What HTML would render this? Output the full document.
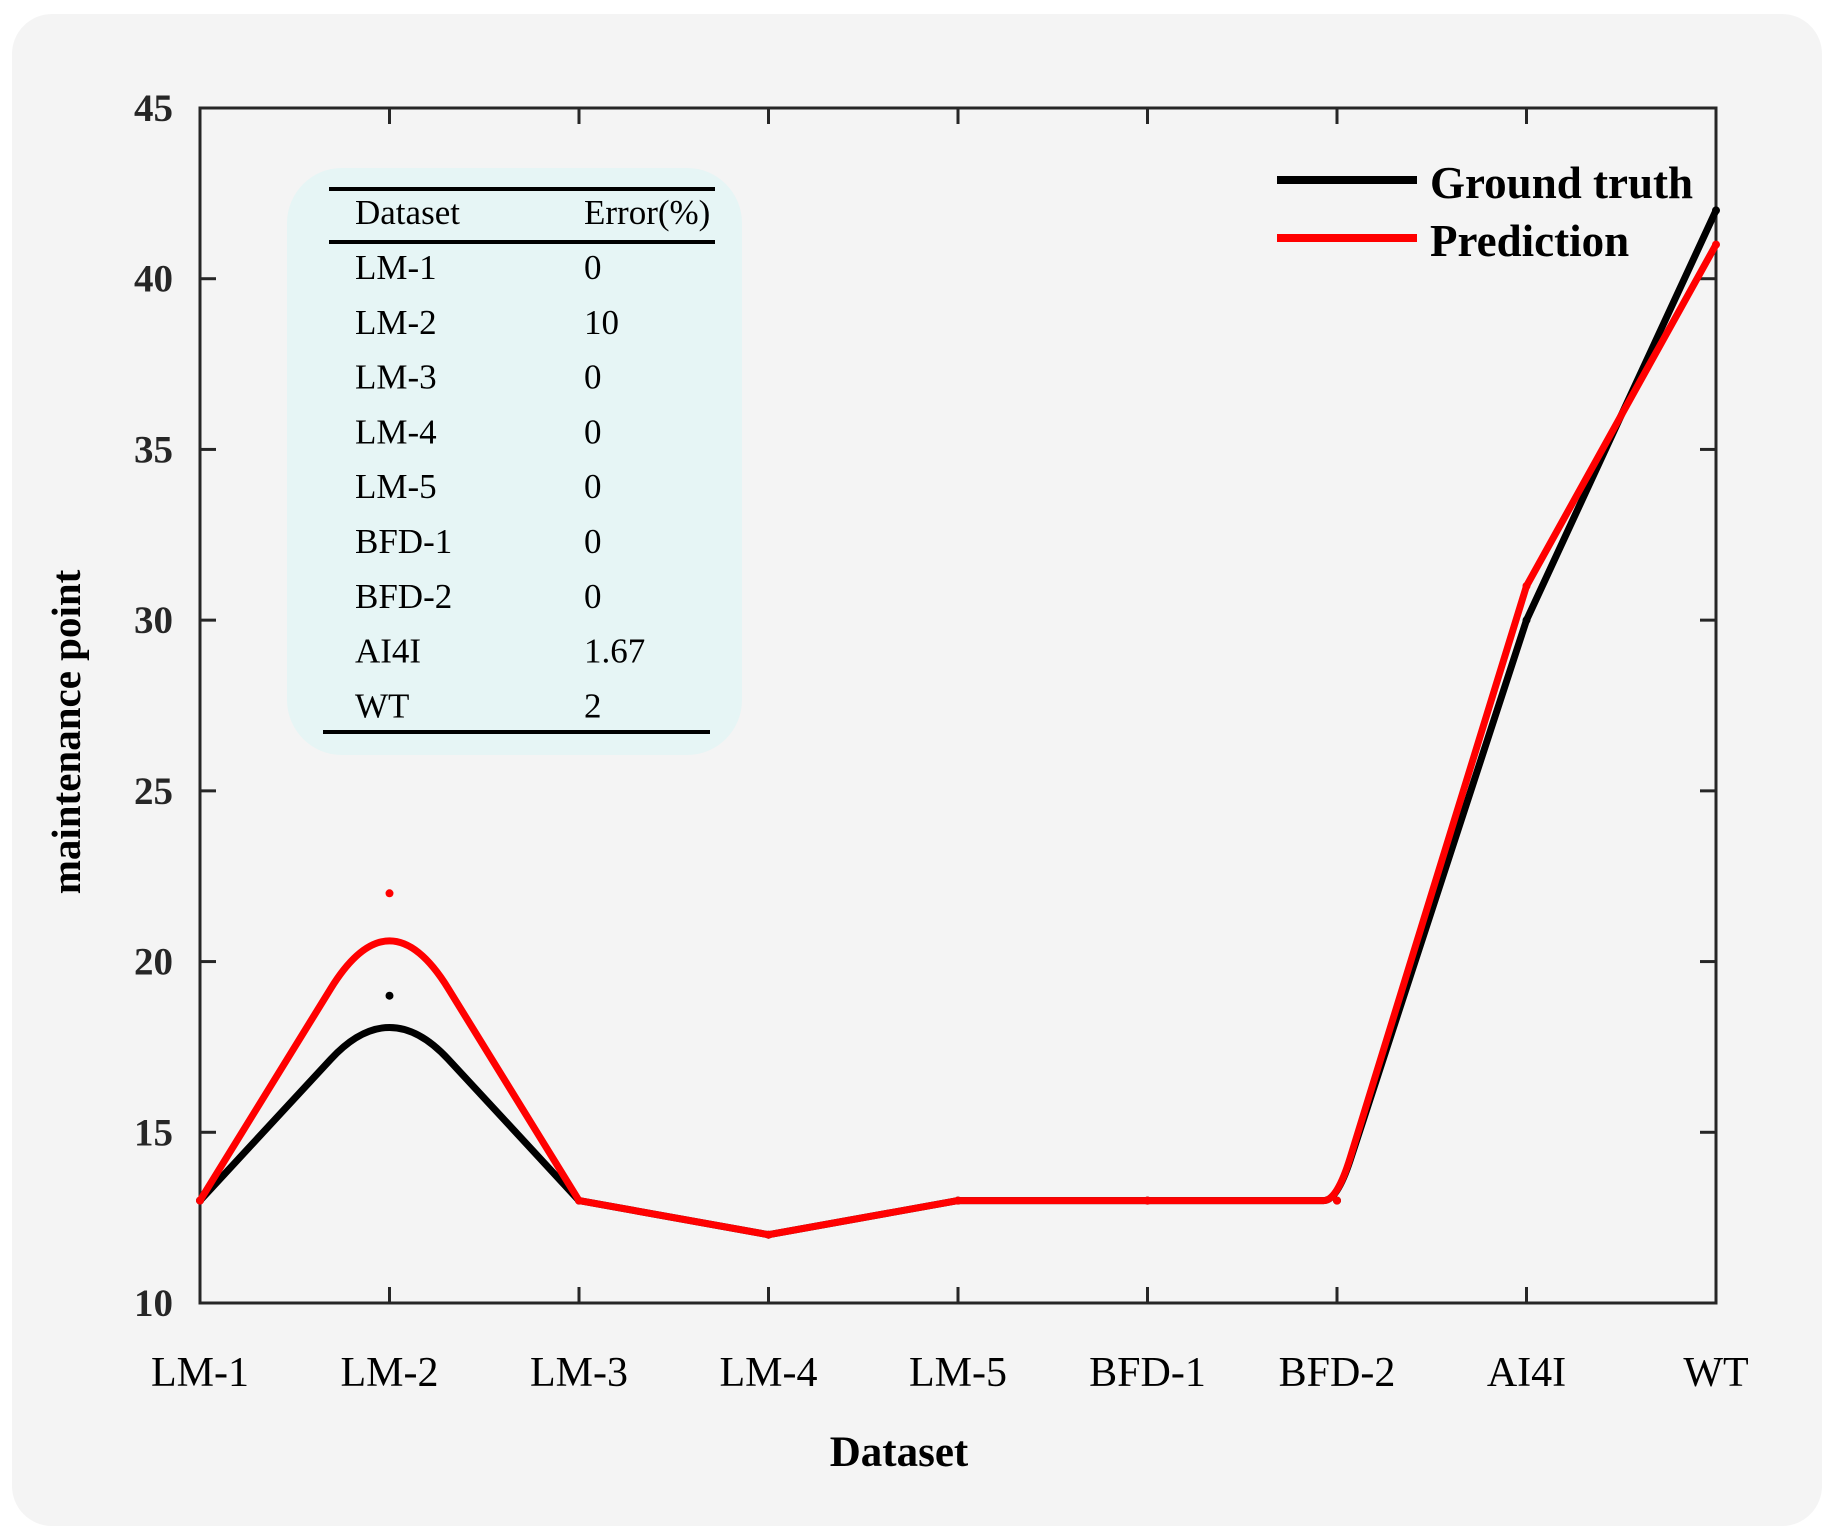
<!DOCTYPE html>
<html><head><meta charset="utf-8"><style>
html,body{margin:0;padding:0;background:#fff;}
svg{display:block;}
</style></head><body>
<svg id="chart" width="1836" height="1540" viewBox="0 0 1836 1540" xmlns="http://www.w3.org/2000/svg">
<rect x="12" y="14" width="1810" height="1512" rx="40" fill="#f4f4f4"/>
<g id="axes"></g>
<g id="table">
<rect x="287" y="168" width="455" height="587" rx="55" fill="#e6f5f5"/>
<line x1="329" y1="189" x2="715" y2="189" stroke="#000" stroke-width="4"/>
<line x1="329" y1="242" x2="715" y2="242" stroke="#000" stroke-width="4"/>
<line x1="323" y1="732" x2="710" y2="732" stroke="#000" stroke-width="4"/>
<text x="355" y="224" font-family="Liberation Serif, serif" font-size="35">Dataset</text>
<text x="584" y="224" font-family="Liberation Serif, serif" font-size="35">Error(%)</text>
</g>
<g id="series"></g>
<g>
<line x1="1277" y1="180" x2="1417" y2="180" stroke="#000" stroke-width="8"/>
<circle cx="1347" cy="180" r="3.5" fill="#000"/>
<text x="1430" y="198" font-family="Liberation Serif, serif" font-weight="bold" font-size="45">Ground truth</text>
<line x1="1277" y1="238" x2="1417" y2="238" stroke="#f00" stroke-width="8"/>
<circle cx="1347" cy="238" r="3.5" fill="#f00"/>
<text x="1430" y="256" font-family="Liberation Serif, serif" font-weight="bold" font-size="45">Prediction</text>
</g>
<text x="899" y="1466" text-anchor="middle" font-family="Liberation Serif, serif" font-weight="bold" font-size="43">Dataset</text>
<text transform="translate(80,732) rotate(-90)" text-anchor="middle" font-family="Liberation Serif, serif" font-weight="bold" font-size="41">maintenance point</text>
</svg>
<script>
const categories = ["LM-1","LM-2","LM-3","LM-4","LM-5","BFD-1","BFD-2","AI4I","WT"];
const groundTruth = [13,19,13,12,13,13,13,30,42];
const prediction = [13,22,13,12,13,13,13,31,41];
const yTicks = [10,15,20,25,30,35,40,45];
const tableDatasets = ["LM-1","LM-2","LM-3","LM-4","LM-5","BFD-1","BFD-2","AI4I","WT"];
const tableErrors = ["0","10","0","0","0","0","0","1.67","2"];

const NS = "http://www.w3.org/2000/svg";
const L = 200, R = 1716, T = 108, B = 1303, yMin = 10, yMax = 45;
function xPos(i){ return L + (R - L) * i / (categories.length - 1); }
function yPos(v){ return B - (v - yMin) / (yMax - yMin) * (B - T); }
function mk(tag, attrs, parent){
  const e = document.createElementNS(NS, tag);
  for (const k in attrs) e.setAttribute(k, attrs[k]);
  parent.appendChild(e);
  return e;
}
const axes = document.getElementById('axes');
const frame = mk('rect', {x:L, y:T, width:R-L, height:B-T, fill:'none', stroke:'#262626', 'stroke-width':3}, axes);


yTicks.forEach(v => {
  const y = yPos(v);
  const t1 = mk('line', {x1:L, y1:y, x2:L+16, y2:y, stroke:'#262626', 'stroke-width':3}, axes);
  
  
  const t2 = mk('line', {x1:R, y1:y, x2:R-16, y2:y, stroke:'#262626', 'stroke-width':3}, axes);
  
  
  const lb = mk('text', {x:173, y:y+13, 'text-anchor':'end', 'font-family':'Liberation Serif, serif', 'font-weight':'bold', 'font-size':39, fill:'#262626'}, axes);
  lb.textContent = v;
  
  
});
categories.forEach((c, i) => {
  const x = xPos(i);
  const t1 = mk('line', {x1:x, y1:B, x2:x, y2:B-16, stroke:'#262626', 'stroke-width':3}, axes);
  
  
  const t2 = mk('line', {x1:x, y1:T, x2:x, y2:T+16, stroke:'#262626', 'stroke-width':3}, axes);
  
  
  const lb = mk('text', {x:x, y:1386, 'text-anchor':'middle', 'font-family':'Liberation Serif, serif', 'font-size':42}, axes);
  lb.textContent = c;
  
  
});
const tbl = document.getElementById('table');
tableDatasets.forEach((d, i) => {
  const y = 279 + i * 54.8;
  const a = mk('text', {x:355, y:y, 'font-family':'Liberation Serif, serif', 'font-size':35}, tbl);
  a.textContent = d;
  
  
  const b = mk('text', {x:584, y:y, 'font-family':'Liberation Serif, serif', 'font-size':35}, tbl);
  b.textContent = tableErrors[i];
  
  
});
function smoothPath(vals){
  const pts = vals.map((v, i) => [xPos(i), yPos(v)]);
  let d = 'M' + pts[0][0] + ',' + pts[0][1];
  for (let i = 1; i < pts.length - 1; i++){
    const p = pts[i-1], v = pts[i], n = pts[i+1];
    const a1 = Math.atan2(v[1]-p[1], v[0]-p[0]);
    const a2 = Math.atan2(n[1]-v[1], n[0]-v[0]);
    let turn = Math.abs(a2 - a1) * 180 / Math.PI;
    if (turn > 180) turn = 360 - turn;
    const cut = turn > 85 ? 0.31 : (turn > 65 ? 0.07 : 0);
    if (cut === 0){ d += ' L' + v[0] + ',' + v[1]; continue; }
    const a = [v[0] + (p[0]-v[0])*cut, v[1] + (p[1]-v[1])*cut];
    const b = [v[0] + (n[0]-v[0])*cut, v[1] + (n[1]-v[1])*cut];
    d += ' L' + a[0] + ',' + a[1] + ' Q' + v[0] + ',' + v[1] + ' ' + b[0] + ',' + b[1];
  }
  const last = pts[pts.length-1];
  d += ' L' + last[0] + ',' + last[1];
  return d;
}
const sg = document.getElementById('series');
function drawSeries(vals, color, name){
  const p = mk('path', {d:smoothPath(vals), fill:'none', stroke:color, 'stroke-width':7, 'stroke-linejoin':'round', 'stroke-linecap':'round'}, sg);
  
  
  vals.forEach((v, i) => {
    const c = mk('circle', {cx:xPos(i), cy:yPos(v), r:4, fill:color}, sg);
    
    
  });
}
drawSeries(groundTruth, '#000', 'ground-truth');
drawSeries(prediction, '#f00', 'prediction');
</script>
</body></html>
